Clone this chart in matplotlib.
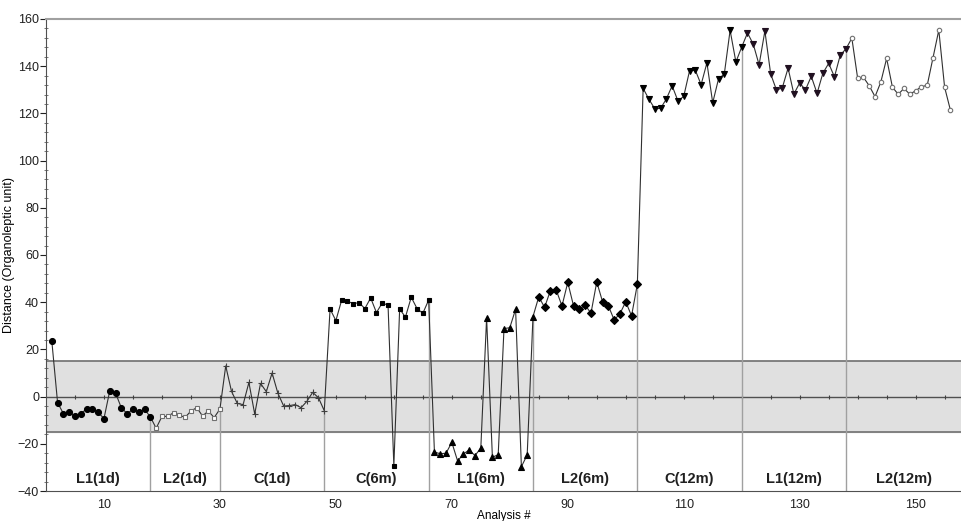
import numpy as np
import matplotlib
matplotlib.use("Agg")
import matplotlib.pyplot as plt
from matplotlib.ticker import MultipleLocator

plt.rcParams["font.family"] = ["Liberation Sans", "DejaVu Sans"]

# Distance values, one per analysis (1..156)
l1_1d = [23.6, -2.6, -7.2, -6.7, -8.2, -7.4, -5.1, -5.1, -6.7, -9.3,
         2.5, 1.5, -4.8, -7.2, -5.4, -6.5, -5.4, -8.6]
l2_1d = [-13.4, -8.4, -8.4, -6.8, -7.9, -8.8, -6.1, -4.7, -8.2, -6.1, -8.9, -5.3]
c_1d = [13.0, 2.2, -2.9, -3.4, 6.0, -7.4, 5.6, 2.1, 10.0, 1.4,
        -4.0, -3.8, -3.4, -4.7, -2.0, 1.8, -0.5, -6.0]
c_6m = [37.1, 32.2, 40.9, 40.4, 39.4, 39.8, 37.3, 41.8, 35.6, 39.7,
        38.7, -29.3, 37.1, 33.7, 42.1, 37.3, 35.3, 40.9]
l1_6m = [-23.5, -24.2, -24.0, -19.4, -27.3, -24.3, -22.6, -25.0, -21.8, 33.3,
         -25.7, -24.6, 28.8, 29.2, 37.0, -29.7, -24.7, 33.9]
l2_6m = [42.3, 37.8, 44.9, 45.2, 38.4, 48.4, 38.4, 37.0, 38.8, 35.3,
         48.6, 40.2, 38.5, 32.5, 35.1, 40.2, 34.2, 47.6]
c_12m = [130.6, 126.0, 122.0, 122.1, 126.1, 131.7, 125.3, 127.2, 138.0, 138.3,
         132.2, 141.4, 124.5, 134.6, 136.7, 155.2, 141.8, 148.1]
l1_12m = [154.1, 149.3, 140.6, 154.9, 136.7, 129.9, 130.8, 139.2, 128.2, 132.9,
          130.0, 135.7, 128.5, 137.0, 141.2, 135.5, 144.7, 147.4]
l2_12m = [151.9, 134.9, 135.3, 131.7, 127.1, 133.3, 143.3, 131.1, 128.1, 130.6,
          128.1, 129.6, 131.3, 131.9, 143.6, 155.3, 131.1, 121.4]

group_names = ["L1(1d)", "L2(1d)", "C(1d)", "C(6m)", "L1(6m)", "L2(6m)",
               "C(12m)", "L1(12m)", "L2(12m)"]
groups = [l1_1d, l2_1d, c_1d, c_6m, l1_6m, l2_6m, c_12m, l1_12m, l2_12m]

# marker style per group: (marker, size, face, edge)
styles = [
    ("o", 4.3, "black", "black"),
    ("s", 3.1, "white", "#707070"),
    ("+", 3.7, "none", "#404040"),
    ("s", 3.4, "black", "black"),
    ("^", 4.3, "black", "black"),
    ("D", 3.7, "black", "black"),
    ("v", 4.7, "black", "black"),
    ("v", 4.7, "#201020", "#201020"),
    ("o", 3.2, "white", "#707070"),
]

y_all = np.concatenate(groups)
x_all = np.arange(1, len(y_all) + 1)
bounds = np.cumsum([len(g) for g in groups])
x_max = 158

fig = plt.figure(figsize=(9.62, 5.21), dpi=100)
ax = fig.add_axes([46 / 962, 1 - 491 / 521, 1 - 46 / 962, (491 - 19) / 521])

# acceptance band
ax.axhspan(-15, 15, color="#e0e0e0", zorder=0)
ax.axhline(15, color="#707070", lw=1.2, zorder=1)
ax.axhline(-15, color="#707070", lw=1.2, zorder=1)
ax.axhline(0, color="#505050", lw=1.0, zorder=1)
zt = np.arange(5, x_max, 5)
ax.plot(zt, np.zeros_like(zt), "|", color="#404040", ms=3, mew=0.8, zorder=1)

# group separators, from the bottom up to the last point of each group
for b in bounds[:-1]:
    ax.vlines(b, -40, y_all[b - 1], color="#a0a0a0", lw=1.0, zorder=1)

ax.plot(x_all, y_all, color="#303030", lw=0.8, zorder=2)

start = 0
for g, (m, ms, fc, ec) in zip(groups, styles):
    xs = np.arange(start + 1, start + len(g) + 1)
    ax.plot(xs, g, ls="none", marker=m, ms=ms, mfc=fc, mec=ec, mew=0.8, zorder=3)
    start += len(g)

edges = np.concatenate([[0], bounds[:-1], [x_max]])
for i, name in enumerate(group_names):
    ax.text((edges[i] + edges[i + 1]) / 2, -35, name, ha="center", va="center",
            fontsize=10.5, fontweight="bold", color="#202020")

ax.set_xlim(0, x_max)
ax.set_ylim(-40, 160)
ax.set_xticks(np.arange(10, 151, 20))
ax.yaxis.set_major_locator(MultipleLocator(20))
ax.yaxis.set_minor_locator(MultipleLocator(4))
ax.tick_params(axis="x", length=0, labelsize=9, pad=6, colors="#202020")
ax.tick_params(axis="y", which="major", length=4, labelsize=9, pad=1, colors="#202020")
ax.tick_params(axis="y", which="minor", length=3, direction="inout", color="#606060")

ax.spines["right"].set_visible(False)
ax.spines["top"].set_color("#a0a0a0")
ax.spines["top"].set_linewidth(1.5)
ax.spines["left"].set_color("#505050")
ax.spines["bottom"].set_color("#505050")

ax.set_ylabel("Distance (Organoleptic unit)", fontsize=9, labelpad=2)
ax.set_xlabel("Analysis #", fontsize=8.5)
ax.xaxis.set_label_coords(0.5, -19.5 / 472)

fig.savefig("out.png", dpi=100)
